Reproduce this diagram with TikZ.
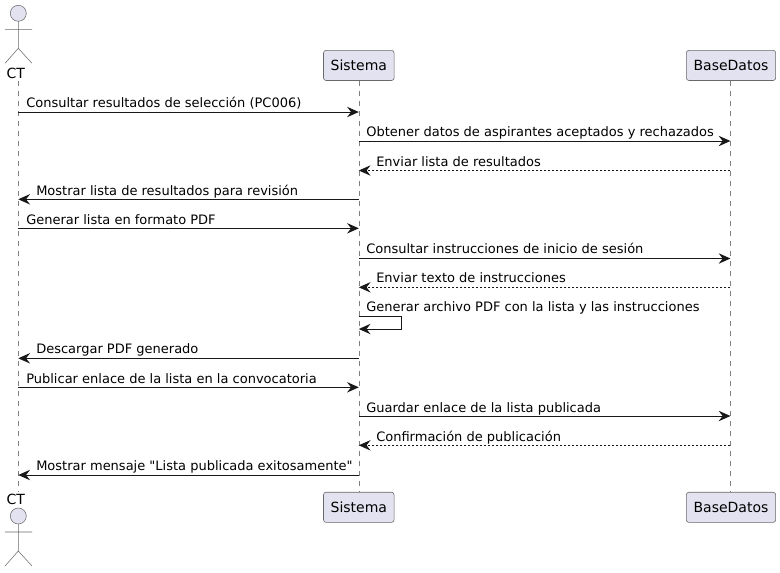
\documentclass[tikz,border=0pt]{standalone}
\usepackage{fontspec}
\setmainfont{DejaVu Sans}[Ligatures=TeXOff]
\usetikzlibrary{arrows.meta}
\definecolor{puml}{HTML}{181818}
\definecolor{pfill}{HTML}{E2E2F0}
\tikzset{
  x=0.75pt,y=-0.75pt,
  partbox/.style={draw=puml!65,fill=pfill,line width=0.45pt,rounded corners=1.9pt,minimum height=22.6pt,inner sep=0pt,font=\fontsize{10.5}{12}\selectfont},
  actorname/.style={font=\fontsize{10.5}{12}\selectfont,inner sep=0pt,anchor=base},
  lifeline/.style={draw=puml!55,line width=0.375pt,dash pattern=on 3.75pt off 3.75pt},
  actorline/.style={draw=puml!65,line width=0.4pt},
  msgtip/.style={-{Stealth[length=8.8pt,width=7.8pt,inset=3pt]}},
  msgline/.style={draw=puml,line width=0.75pt,msgtip},
  retline/.style={msgline,dash pattern=on 1.5pt off 1.5pt},
  msglabel/.style={font=\fontsize{9.75}{12}\selectfont,inner sep=0pt,anchor=base west,text=black},
}
\newcommand{\actorfig}[1]{%
  \draw[actorline,fill=pfill] (18.3,#1) circle[radius=8];
  \draw[actorline] (18.3,#1+8) -- (18.3,#1+35) (5,#1+16) -- (32,#1+16)
    (5,#1+50) -- (18.3,#1+35) -- (32,#1+50);
}
\newcommand{\msgR}[4]{% style, from, y, to
  \draw[#1] (#2 |- 0,#3) -- (#4 |- 0,#3);
}
\begin{document}
\begin{tikzpicture}
\useasboundingbox (0,0) rectangle (780,572);
\fill[white] (0,0) rectangle (780,572);
% lifeline ends
\coordinate (ctT) at (18.3,81);
\coordinate (ctB) at (18.3,491.5);
\coordinate (siT) at (358.8,81);
\coordinate (siB) at (358.8,491.5);
\coordinate (dbT) at (730.4,81);
\coordinate (dbB) at (730.4,491.5);
\draw[lifeline] (ctT) -- (ctB);
\draw[lifeline] (siT) -- (siB);
\draw[lifeline] (dbT) -- (dbB);
% actors
\actorfig{13.3}
\actorfig{516}
\node[actorname] (ctTop) at (15.8,78.4) {CT};
\node[actorname] (ctBot) at (15.8,504.8) {CT};
% participants
\node[partbox,minimum width=52.9pt] (siTop) at (358.8,65.4) {Sistema};
\node[partbox,minimum width=67pt] (dbTop) at (731,65.4) {BaseDatos};
\node[partbox,minimum width=52.9pt] (siBot) at (358.8,507.3) {Sistema};
\node[partbox,minimum width=67pt] (dbBot) at (731,507.3) {BaseDatos};
% messages
\msgR{msgline}{ctT}{112}{siT}
\node[msglabel] (m1) at (26,107) {Consultar resultados de selección (PC006)};
\msgR{msgline}{siT}{141}{dbT}
\node[msglabel] (m2) at (366,136) {Obtener datos de aspirantes aceptados y rechazados};
\msgR{retline}{dbT}{170.5}{siT}
\node[msglabel] (m3) at (376,166) {Enviar lista de resultados};
\msgR{msgline}{siT}{199.3}{ctT}
\node[msglabel] (m4) at (36,195) {Mostrar lista de resultados para revisión};
\msgR{msgline}{ctT}{228.3}{siT}
\node[msglabel] (m5) at (26,224) {Generar lista en formato PDF};
\msgR{msgline}{siT}{258.5}{dbT}
\node[msglabel] (m6) at (366,253) {Consultar instrucciones de inicio de sesión};
\msgR{retline}{dbT}{287.3}{siT}
\node[msglabel] (m7) at (376,282) {Enviar texto de instrucciones};
\draw[msgline] (siT |- 0,316.3) -- (401.5,316.3) -- (401.5,329) -- (siT |- 0,329);
\node[msglabel] (m8) at (366,311) {Generar archivo PDF con la lista y las instrucciones};
\msgR{msgline}{siT}{358.3}{ctT}
\node[msglabel] (m9) at (36,353) {Descargar PDF generado};
\msgR{msgline}{ctT}{387.3}{siT}
\node[msglabel] (m10) at (26,383) {Publicar enlace de la lista en la convocatoria};
\msgR{msgline}{siT}{416}{dbT}
\node[msglabel] (m11) at (366,412) {Guardar enlace de la lista publicada};
\msgR{retline}{dbT}{445.3}{siT}
\node[msglabel] (m12) at (376,441) {Confirmación de publicación};
\msgR{msgline}{siT}{475}{ctT}
\node[msglabel] (m13) at (36,470) {Mostrar mensaje "Lista publicada exitosamente"};
\end{tikzpicture}
\end{document}
